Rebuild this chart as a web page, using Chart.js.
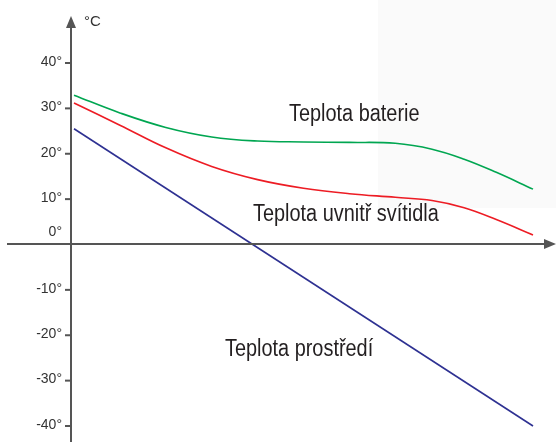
<!DOCTYPE html>
<html>
<head>
<meta charset="utf-8">
<script src="https://cdn.jsdelivr.net/npm/chart.js@4"></script>
<style>
html,body{margin:0;padding:0;background:#fff;}
#wrap{width:556px;height:442px;position:relative;}
</style>
</head>
<body>
<div id="wrap"><canvas id="c" width="556" height="442"></canvas></div>
<script>
// Data (x: relative time 0..100, y: °C)
const timeBattery = [0, 10, 20, 30, 40, 50, 60, 70, 78, 85, 92, 100];
const tempBattery = [32.9, 29.0, 25.8, 23.7, 22.8, 22.6, 22.5, 22.3, 21.0, 18.8, 15.9, 12.2];
const timeLamp = [0, 10, 20, 30, 40, 50, 60, 70, 78, 85, 92, 100];
const tempLamp = [31.2, 26.3, 21.3, 17.2, 14.3, 12.4, 11.2, 10.4, 9.7, 8.1, 5.5, 2.1];
const timeAmbient = [0, 100];
const tempAmbient = [25.5, -40.0];
const yTicks = [40, 30, 20, 10, 0, -10, -20, -30, -40];
const unitLabel = '°C';
const seriesLabels = ['Teplota baterie', 'Teplota uvnitř svítidla', 'Teplota prostředí'];

const toPts = (xs, ys) => xs.map((x, i) => ({x: x, y: ys[i]}));

const AXIS = '#555555';
const TXT = '#333333';

function narrowText(ctx, text, x, y) {
  ctx.save();
  ctx.translate(x, y);
  ctx.scale(0.865, 1);
  ctx.fillText(text, 0, 0);
  ctx.restore();
}

const decor = {
  id: 'decor',
  beforeDraw(chart) {
    const ctx = chart.ctx;
    ctx.save();
    ctx.fillStyle = '#fafafa';
    ctx.fillRect(378, 0, 178, 208);
    ctx.restore();
  },
  afterDatasetsDraw(chart) {
    const ctx = chart.ctx;
    const ys = chart.scales.y;
    const ax = chart.chartArea.left - 3;
    const ay = Math.round(ys.getPixelForValue(0)) - 1;
    ctx.save();
    ctx.strokeStyle = AXIS;
    ctx.fillStyle = AXIS;
    ctx.lineWidth = 2;
    // y axis
    ctx.beginPath();
    ctx.moveTo(ax, 26);
    ctx.lineTo(ax, 442);
    ctx.stroke();
    ctx.beginPath();
    ctx.moveTo(ax, 16);
    ctx.lineTo(ax - 5, 28);
    ctx.lineTo(ax + 5, 28);
    ctx.closePath();
    ctx.fill();
    // x axis
    ctx.beginPath();
    ctx.moveTo(7, ay);
    ctx.lineTo(546, ay);
    ctx.stroke();
    ctx.beginPath();
    ctx.moveTo(556, ay);
    ctx.lineTo(544, ay - 5);
    ctx.lineTo(544, ay + 5);
    ctx.closePath();
    ctx.fill();
    // ticks
    ctx.font = '14px "Liberation Sans", Arial, sans-serif';
    ctx.fillStyle = TXT;
    ctx.textAlign = 'right';
    ctx.textBaseline = 'middle';
    yTicks.forEach(v => {
      const py = ys.getPixelForValue(v);
      if (v === 0) {
        ctx.fillText(v + '°', ax - 9, ay - 12);
        return;
      }
      ctx.beginPath();
      ctx.moveTo(ax - 6, py);
      ctx.lineTo(ax, py);
      ctx.stroke();
      ctx.fillText(v + '°', ax - 9, py - 1);
    });
    ctx.textAlign = 'left';
    ctx.font = '15px "Liberation Sans", Arial, sans-serif';
    ctx.fillText(unitLabel, ax + 13, 22);
    // series labels
    ctx.fillStyle = '#231f20';
    ctx.font = '23px "Liberation Sans", Arial, sans-serif';
    ctx.textBaseline = 'alphabetic';
    narrowText(ctx, seriesLabels[0], 289, 121);
    narrowText(ctx, seriesLabels[1], 253, 221);
    narrowText(ctx, seriesLabels[2], 225, 356);
    ctx.restore();
  }
};

new Chart(document.getElementById('c'), {
  type: 'line',
  data: {
    datasets: [
      {label: seriesLabels[0], data: toPts(timeBattery, tempBattery), borderColor: '#00a651', borderWidth: 1.6, tension: 0.4},
      {label: seriesLabels[1], data: toPts(timeLamp, tempLamp), borderColor: '#ed1c24', borderWidth: 1.6, tension: 0.4},
      {label: seriesLabels[2], data: toPts(timeAmbient, tempAmbient), borderColor: '#2e3192', borderWidth: 1.6}
    ]
  },
  options: {
    responsive: false,
    animation: false,
    devicePixelRatio: 1,
    layout: {padding: {left: 74, right: 23, top: 63, bottom: 16}},
    elements: {point: {radius: 0}, line: {fill: false}},
    datasets: {line: {clip: false}},
    plugins: {legend: {display: false}, tooltip: {enabled: false}},
    scales: {
      x: {type: 'linear', min: 0, max: 100, display: false},
      y: {type: 'linear', min: -40, max: 40, display: false}
    }
  },
  plugins: [decor]
});
</script>
</body>
</html>
